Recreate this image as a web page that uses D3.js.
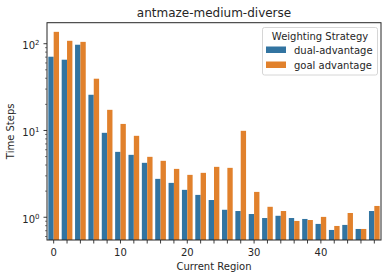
<!DOCTYPE html>
<html><head><meta charset="utf-8">
<script src="https://cdn.jsdelivr.net/npm/d3@7"></script>
<style>body{margin:0;background:#fff}svg{display:block;font-family:"DejaVu Sans",sans-serif}</style>
</head><body>
<svg id="c" width="389" height="278"></svg>
<script>
const regions = [0,2,4,6,8,10,12,14,16,18,20,22,24,26,28,30,32,34,36,38,40,42,44,46,48];
const dualAdvantage = [70.8,65.4,97.3,25.8,9.4,5.67,5.24,4.24,2.77,2.49,2.07,1.81,1.58,1.22,1.18,1.09,0.98,1.04,0.98,0.956,0.838,0.714,0.816,0.733,1.18];
const goalAdvantage = [137,108,105,39.5,17.3,11.9,8.68,4.97,4.47,3.61,3.08,3.25,3.81,3.71,9.91,1.96,1.32,1.18,0.907,0.93,1.01,0.794,1.12,0.733,1.35];
const seriesNames = ["dual-advantage","goal advantage"];
const colors = ["#3274a1","#e1812c"];
const xTickLabels = ["0","10","20","30","40"];
const yTicks = [1,10,100];

const svg = d3.select("#c");
const L=47, R=381, T=22.7, B=240;
const x = d3.scaleBand().domain(regions).range([L,R]).paddingInner(0).paddingOuter(0);
const y = d3.scaleLog().domain([0.547,174.6]).range([B,T]);
const sub = d3.scaleBand().domain([0,1]).range([0, x.bandwidth()*0.8]);
const off = x.bandwidth()*0.1;

const series = [dualAdvantage, goalAdvantage];
series.forEach((vals,si)=>{
  svg.append("g").selectAll("rect").data(regions).join("rect")
    .attr("x",(d)=>x(d)+off+sub(si))
    .attr("width",sub.bandwidth())
    .attr("y",(d,i)=>y(vals[i]))
    .attr("height",(d,i)=>B-y(vals[i]))
    .attr("fill",colors[si]);
});

// x axis
const xAxis = d3.axisBottom(x).tickSize(3.5).tickPadding(5.5)
  .tickFormat(d=>xTickLabels.includes(String(d))? String(d) : "");
const gx = svg.append("g").attr("transform",`translate(0,${B})`).call(xAxis);
gx.select(".domain").remove();
gx.selectAll("text").attr("font-size","10px").attr("fill","#262626").attr("font-family","DejaVu Sans");
gx.selectAll("line").attr("stroke","#262626").attr("stroke-width",0.9);

// y axis
const minor = [];
for (let e=-1;e<=2;e++) for (let m=2;m<=9;m++){const v=m*Math.pow(10,e); if(v>=0.547&&v<=174.6) minor.push(v);}
svg.append("g").selectAll("line").data(minor).join("line")
  .attr("x1",L-2).attr("x2",L).attr("y1",d=>y(d)).attr("y2",d=>y(d))
  .attr("stroke","#262626").attr("stroke-width",0.6);
svg.append("g").selectAll("line").data(yTicks).join("line")
  .attr("x1",L-3.5).attr("x2",L).attr("y1",d=>y(d)).attr("y2",d=>y(d))
  .attr("stroke","#262626").attr("stroke-width",0.9);
const yl = svg.append("g").selectAll("text").data(yTicks).join("text")
  .attr("x",L-7.5).attr("y",d=>y(d)+5.3).attr("text-anchor","end")
  .attr("font-size","10px").attr("fill","#262626");
yl.append("tspan").text("10");
yl.append("tspan").attr("dy",-4).attr("font-size","7px").text(d=>Math.round(Math.log10(d)));

// frame
svg.append("rect").attr("x",L).attr("y",T).attr("width",R-L).attr("height",B-T)
  .attr("fill","none").attr("stroke","#262626").attr("stroke-width",1);

// labels
svg.append("text").attr("x",(L+R)/2).attr("y",17).attr("text-anchor","middle")
  .attr("font-size","12px").attr("fill","#262626").text("antmaze-medium-diverse");
svg.append("text").attr("x",(L+R)/2).attr("y",270).attr("text-anchor","middle")
  .attr("font-size","10px").attr("fill","#262626").text("Current Region");
svg.append("text").attr("transform",`translate(14,${(T+B)/2}) rotate(-90)`).attr("text-anchor","middle")
  .attr("font-size","10px").attr("fill","#262626").text("Time Steps");

// legend
const lg = svg.append("g");
lg.append("rect").attr("x",262.5).attr("y",27.5).attr("width",115).attr("height",47.5).attr("rx",2)
  .attr("fill","#fff").attr("fill-opacity",0.8).attr("stroke","#cccccc").attr("stroke-width",0.8);
lg.append("text").attr("x",320).attr("y",39.6).attr("text-anchor","middle").attr("font-size","10px").attr("fill","#262626").text("Weighting Strategy");
seriesNames.forEach((n,i)=>{
  lg.append("rect").attr("x",266).attr("y",46.5+i*15).attr("width",20).attr("height",6.5).attr("fill",colors[i]);
  lg.append("text").attr("x",294).attr("y",54.3+i*15).attr("font-size","10px").attr("fill","#262626").text(n);
});
</script>
</body></html>
